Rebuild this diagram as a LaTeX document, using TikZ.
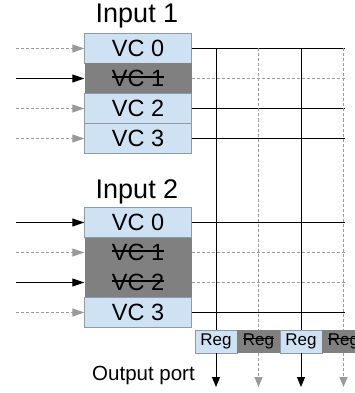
\documentclass[tikz,border=0pt]{standalone}
\usepackage{fontspec}
\setmainfont{Liberation Sans}
\usetikzlibrary{arrows.meta}
\definecolor{vcblue}{HTML}{CFE2F3}
\definecolor{vcgrey}{HTML}{808080}
\definecolor{vcedge}{HTML}{8C9BA5}
\definecolor{idlegrey}{HTML}{9A9A9A}
\newcommand{\crossed}[1]{\setbox0\hbox{#1}\rlap{\rule[0.36em]{\wd0}{0.07em}}\box0}

\begin{document}
\begin{tikzpicture}[x=1pt,y=-1pt,
    vc_live/.style={rectangle,draw=vcedge,fill=vcblue,minimum width=107pt,minimum height=30pt,inner sep=0pt,font=\fontsize{23.5}{23.5}\selectfont},
    vc_dead/.style={vc_live,draw=none,fill=vcgrey},
    reg_live/.style={rectangle,draw=vcedge,fill=vcblue,minimum width=42.5pt,minimum height=23pt,inner sep=0pt,font=\fontsize{17}{17}\selectfont},
    reg_dead/.style={reg_live,draw=none,fill=vcgrey},
    port_label/.style={anchor=base,inner sep=0pt,font=\fontsize{27}{27}\selectfont},
    out_label/.style={anchor=base,inner sep=0pt,font=\fontsize{20.5}{20.5}\selectfont},
    busy_wire/.style={black,line width=1pt},
    idle_wire/.style={idlegrey,line width=1pt,dash pattern=on 3pt off 2pt},
    busy_arrow/.style={busy_wire,-{Triangle[length=12pt,width=8pt]}},
    idle_arrow/.style={idle_wire,-{Triangle[length=12pt,width=8pt]}},
    busy_out/.style={busy_wire,-{Triangle[length=10pt,width=8pt]}},
    idle_out/.style={idle_wire,-{Triangle[length=10pt,width=8pt]}}]
  \useasboundingbox (0,0) rectangle (355,393);
  \clip (0,0) rectangle (355,393);
\node[port_label] (in1) at (137.00,22.50) {Input 1};
\node[port_label] (in2) at (137.00,198.00) {Input 2};
\node[vc_live] (a0) at (138.00,48.50) {VC 0};
\node[vc_dead] (a1) at (138.00,78.50) {\crossed{VC 1}};
\node[vc_live] (a2) at (138.00,108.50) {VC 2};
\node[vc_live] (a3) at (138.00,138.50) {VC 3};
\node[vc_live] (b0) at (138.00,222.50) {VC 0};
\node[vc_dead] (b1) at (138.00,252.50) {\crossed{VC 1}};
\node[vc_dead] (b2) at (138.00,282.50) {\crossed{VC 2}};
\node[vc_live] (b3) at (138.00,312.50) {VC 3};
\node[reg_live] (r0) at (216.00,341.50) {Reg};
\node[reg_dead] (r1) at (258.50,341.50) {\crossed{Reg}};
\node[reg_live] (r2) at (301.00,341.50) {Reg};
\node[reg_dead] (r3) at (343.50,341.50) {\crossed{Reg}};
\node[out_label] (out) at (143.50,380.00) {Output port};
  % incoming flits
  \coordinate (ia0) at (16.00,48.50);
  \coordinate (ia1) at (16.00,78.50);
  \coordinate (ia2) at (16.00,108.50);
  \coordinate (ia3) at (16.00,138.50);
  \coordinate (ib0) at (16.00,222.50);
  \coordinate (ib1) at (16.00,252.50);
  \coordinate (ib2) at (16.00,282.50);
  \coordinate (ib3) at (16.00,312.50);
  \draw[idle_arrow] (ia0) -- (a0);
  \draw[busy_arrow] (ia1) -- (a1);
  \draw[idle_arrow] (ia2) -- (a2);
  \draw[idle_arrow] (ia3) -- (a3);
  \draw[busy_arrow] (ib0) -- (b0);
  \draw[idle_arrow] (ib1) -- (b1);
  \draw[busy_arrow] (ib2) -- (b2);
  \draw[idle_arrow] (ib3) -- (b3);
  % crossbar rows
  \coordinate (xa0) at (345.00,48.50);
  \coordinate (xa1) at (345.00,78.50);
  \coordinate (xa2) at (345.00,108.50);
  \coordinate (xa3) at (345.00,138.50);
  \coordinate (xb0) at (345.00,222.50);
  \coordinate (xb1) at (345.00,252.50);
  \coordinate (xb2) at (345.00,282.50);
  \coordinate (xb3) at (345.00,312.50);
  \draw[busy_wire] (a0.east) -- (xa0);
  \draw[idle_wire] (a1.east) -- (xa1);
  \draw[busy_wire] (a2.east) -- (xa2);
  \draw[busy_wire] (a3.east) -- (xa3);
  \draw[busy_wire] (b0.east) -- (xb0);
  \draw[idle_wire] (b1.east) -- (xb1);
  \draw[idle_wire] (b2.east) -- (xb2);
  \draw[busy_wire] (b3.east) -- (xb3);
  % crossbar columns
  \coordinate (t0) at (216.00,48.50);
  \coordinate (t1) at (258.50,48.50);
  \coordinate (t2) at (301.00,48.50);
  \coordinate (t3) at (343.50,48.50);
  \draw[busy_wire] (t0) -- (r0);
  \draw[idle_wire] (t1) -- (r1);
  \draw[busy_wire] (t2) -- (r2);
  \draw[idle_wire] (t3) -- (r3);
  % output
  \coordinate (o0) at (216.00,387.00);
  \coordinate (o1) at (258.50,387.00);
  \coordinate (o2) at (301.00,387.00);
  \coordinate (o3) at (343.50,387.00);
  \draw[busy_out] (r0) -- (o0);
  \draw[idle_out] (r1) -- (o1);
  \draw[busy_out] (r2) -- (o2);
  \draw[idle_out] (r3) -- (o3);
\end{tikzpicture}
\end{document}
